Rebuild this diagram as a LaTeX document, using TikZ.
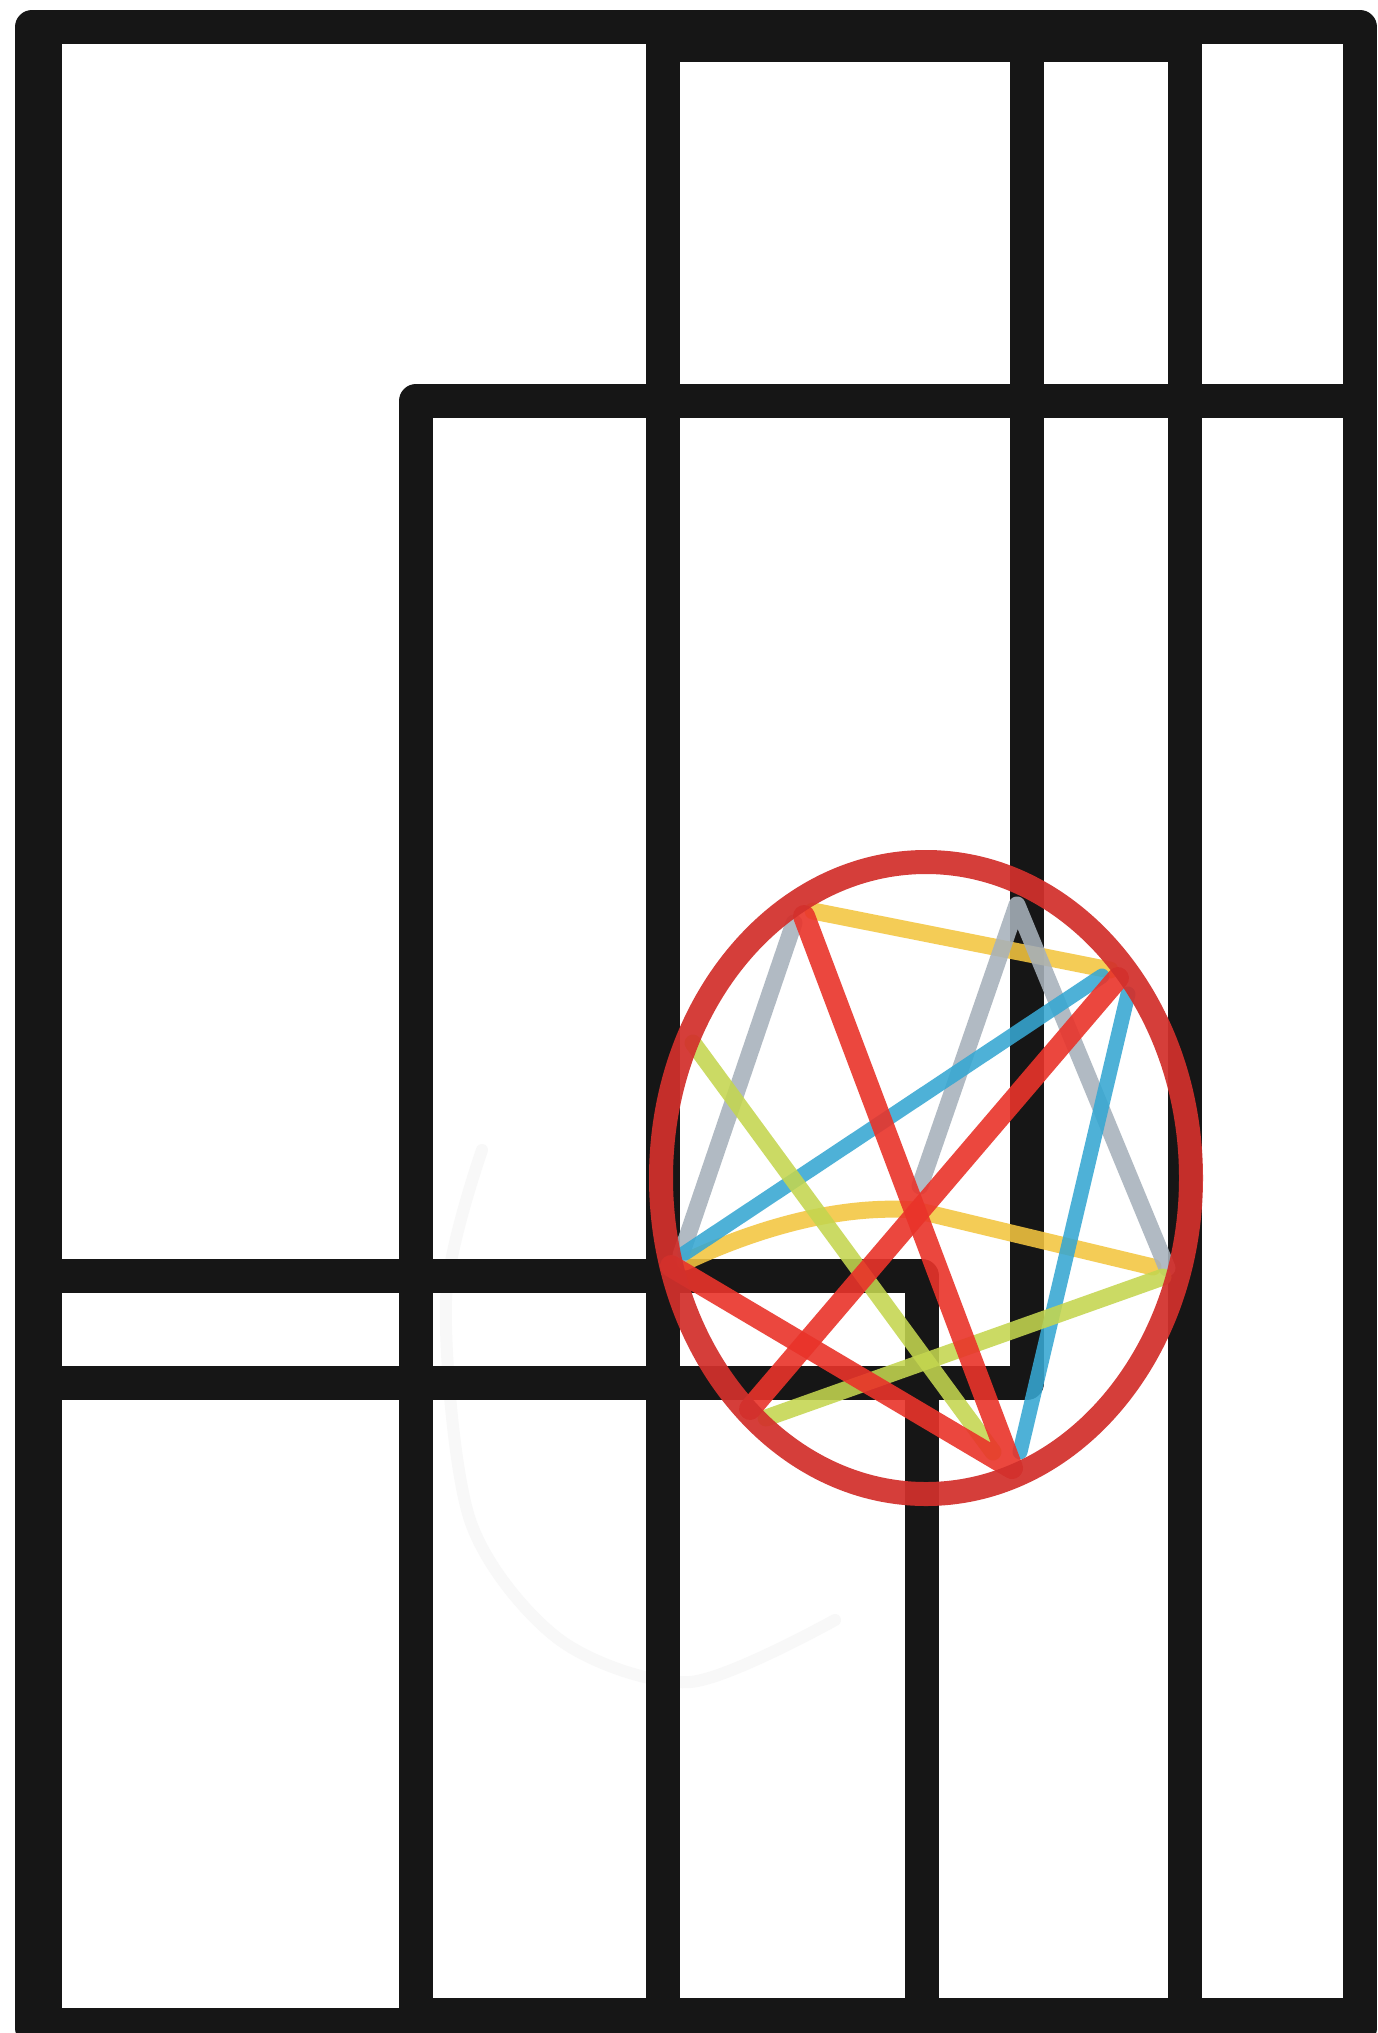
\documentclass[tikz,border=0pt]{standalone}
\definecolor{ink}{HTML}{161616}
\definecolor{ellred}{HTML}{D2302C}
\definecolor{chred}{HTML}{E9332A}
\definecolor{yel}{HTML}{F3C53F}
\definecolor{lime}{HTML}{C4D64F}
\definecolor{sky}{HTML}{36A7D2}
\definecolor{slate}{HTML}{A7B1BB}
\definecolor{ghost}{HTML}{F8F8F8}
\tikzset{
  bar/.style={draw=ink, line width=34pt, line join=round},
  chord/.style={line width=17pt, line cap=round, line join=round, opacity=0.88},
  redchord/.style={draw=chred, line width=22pt, line cap=round, line join=round, opacity=0.9},
  ring/.style={draw=ellred, line width=24pt, opacity=0.93},
}
\begin{document}
\begin{tikzpicture}[x=1pt,y=-1pt]
\useasboundingbox (0,0) rectangle (1377,2033);
\clip (0,0) rectangle (1377,2033);
\fill[white] (0,0) rectangle (1377,2033);
% faint ghost arc
\draw[ghost, line width=12pt, line cap=round] plot[smooth] coordinates {(482,1150) (446,1300) (470,1520) (560,1640) (690,1682) (835,1620)};
% black frames
\draw[bar] (32,27) rectangle (1360,2028);
\draw[bar] (45,27) rectangle (1027,1383);
\draw[bar] (45,1276) rectangle (922,2025);
\draw[bar] (663,45) rectangle (1185,2015);
\draw[bar] (416,401) rectangle (1360,2015);
% chord end points
\coordinate (ytA) at (813,911);
\coordinate (ytB) at (1110,970);
\coordinate (ymA) at (685,1262);
\coordinate (ymP) at (915,1210);
\coordinate (ymB) at (1153,1267);
\coordinate (gA) at (681,1255);
\coordinate (gB) at (794,923);
\coordinate (gC) at (920,1186);
\coordinate (gD) at (1017,905);
\coordinate (gE) at (1167,1268);
\coordinate (bA) at (685,1253);
\coordinate (bB) at (1102,976);
\coordinate (bC) at (1128,994);
\coordinate (bD) at (1020,1452);
\coordinate (lA) at (693,1043);
\coordinate (lB) at (993,1452);
\coordinate (lC) at (766,1418);
\coordinate (lD) at (1163,1277);
\coordinate (rTL) at (804,916);
\coordinate (rB) at (1012,1468);
\coordinate (rL) at (671,1266);
\coordinate (rTR) at (1118,978);
\coordinate (rBL) at (750,1409);
% yellow
\draw[chord, draw=yel] (ytA) -- (ytB);
\draw[chord, draw=yel] (ymA) .. controls (770,1222) and (850,1205) .. (ymP) -- (ymB);
% gray
\draw[chord, draw=slate] (gA) -- (gB);
\draw[chord, draw=slate] (gC) -- (gD) -- (gE);
% blue
\draw[chord, draw=sky, line width=15pt] (bA) -- (bB);
\draw[chord, draw=sky, line width=15pt] (bC) -- (bD);
% lime
\draw[chord, draw=lime] (lA) -- (lB);
\draw[chord, draw=lime] (lC) -- (lD);
% red chords
\draw[redchord] (rTL) -- (rB) -- (rL);
\draw[redchord] (rTR) -- (rBL);
% ring
\draw[ring] (926,1178) ellipse [x radius=265, y radius=316];
\end{tikzpicture}
\end{document}
